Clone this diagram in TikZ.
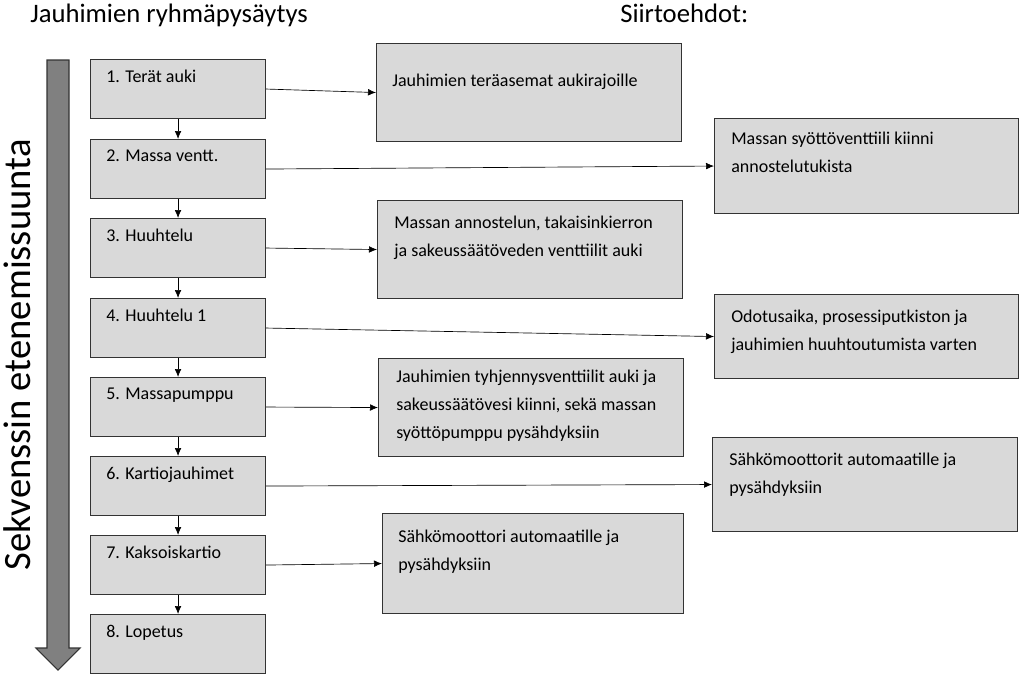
\documentclass[tikz,border=0pt]{standalone}
\usepackage{fontspec}
\setmainfont{Carlito}
\usetikzlibrary{arrows.meta}

\begin{document}
\begin{tikzpicture}[x=0.75pt,y=-0.75pt,
  box/.style={draw=black!80,fill=black!15,line width=0.8pt,anchor=north west,inner sep=0pt},
  lbl/.style={anchor=north west,inner sep=0pt,align=left,font=\fontsize{13.5}{21}\selectfont},
  link/.style={-{Latex[length=6pt,width=5pt]},line width=0.5pt},
  title/.style={anchor=north west,inner sep=0pt,font=\fontsize{20}{24}\selectfont}]
\useasboundingbox (0,0) rectangle (1023,678);
% titles
\node[title] (t1) at (30,4) {Jauhimien ryhmäpysäytys};
\node[title] (t2) at (620,4) {Siirtoehdot:};
% direction arrow
\draw[draw=black!80,fill=black!50,line width=0.8pt]
  (47,60) -- (69,60) -- (69,648) -- (80,648) -- (58,670) -- (36,648) -- (47,648) -- cycle;
\node[rotate=90,inner sep=0pt,font=\fontsize{29}{34}\selectfont] (dir) at (17,355) {Sekvenssin etenemissuunta};
% sequence steps
\foreach \i/\y/\t in {1/59/1. Terät auki,2/139/2. Massa ventt.,3/218/3. Huuhtelu,4/298/4. Huuhtelu 1,
  5/377/5. Massapumppu,6/456/6. Kartiojauhimet,7/535/7. Kaksoiskartio,8/614/8. Lopetus}{
  \node[box,minimum width={175*0.75pt},minimum height={59*0.75pt}] (s\i) at (90,\y) {};
  \node[lbl] (l\i) at (106,\y+11) {\t};
}
\foreach \a/\b in {1/2,2/3,3/4,4/5,5/6,6/7,7/8}
  \draw[link] (s\a.south) -- (s\b.north);
% conditions
\node[box,minimum width={305*0.75pt},minimum height={98*0.75pt}] (c1) at (376,43) {};
\node[box,minimum width={304*0.75pt},minimum height={95*0.75pt}] (c2) at (714,118) {};
\node[box,minimum width={305*0.75pt},minimum height={98*0.75pt}] (c3) at (377,200) {};
\node[box,minimum width={304*0.75pt},minimum height={84*0.75pt}] (c4) at (714,294) {};
\node[box,minimum width={305*0.75pt},minimum height={98*0.75pt}] (c5) at (378,358) {};
\node[box,minimum width={305*0.75pt},minimum height={94*0.75pt}] (c6) at (712,437) {};
\node[box,minimum width={301*0.75pt},minimum height={100*0.75pt}] (c7) at (382,513) {};
\node[lbl] (k1) at (392,74) {Jauhimien teräasemat aukirajoille};
\node[lbl] (k2) at (731,132) {Massan syöttöventtiili kiinni\\annostelutukista};
\node[lbl] (k3) at (394,216) {Massan annostelun, takaisinkierron\\ja sakeussäätöveden venttiilit auki};
\node[lbl] (k4) at (731,310) {Odotusaika, prosessiputkiston ja\\jauhimien huuhtoutumista varten};
\node[lbl] (k5) at (396,370) {Jauhimien tyhjennysventtiilit auki ja\\sakeussäätövesi kiinni, sekä massan\\syöttöpumppu pysähdyksiin};
\node[lbl] (k6) at (729,453) {Sähkömoottorit automaatille ja\\pysähdyksiin};
\node[lbl] (k7) at (398,530) {Sähkömoottori automaatille ja\\pysähdyksiin};
% links
\draw[link] (s1.east) -- (c1.west);
\draw[link] (s2.east) -- (c2.west);
\draw[link] (s3.east) -- (c3.west);
\draw[link] (s4.east) -- (c4.west);
\draw[link] (s5.east) -- (c5.west);
\draw[link] (s6.east) -- (c6.west);
\draw[link] (s7.east) -- (c7.west);
\end{tikzpicture}
\end{document}
